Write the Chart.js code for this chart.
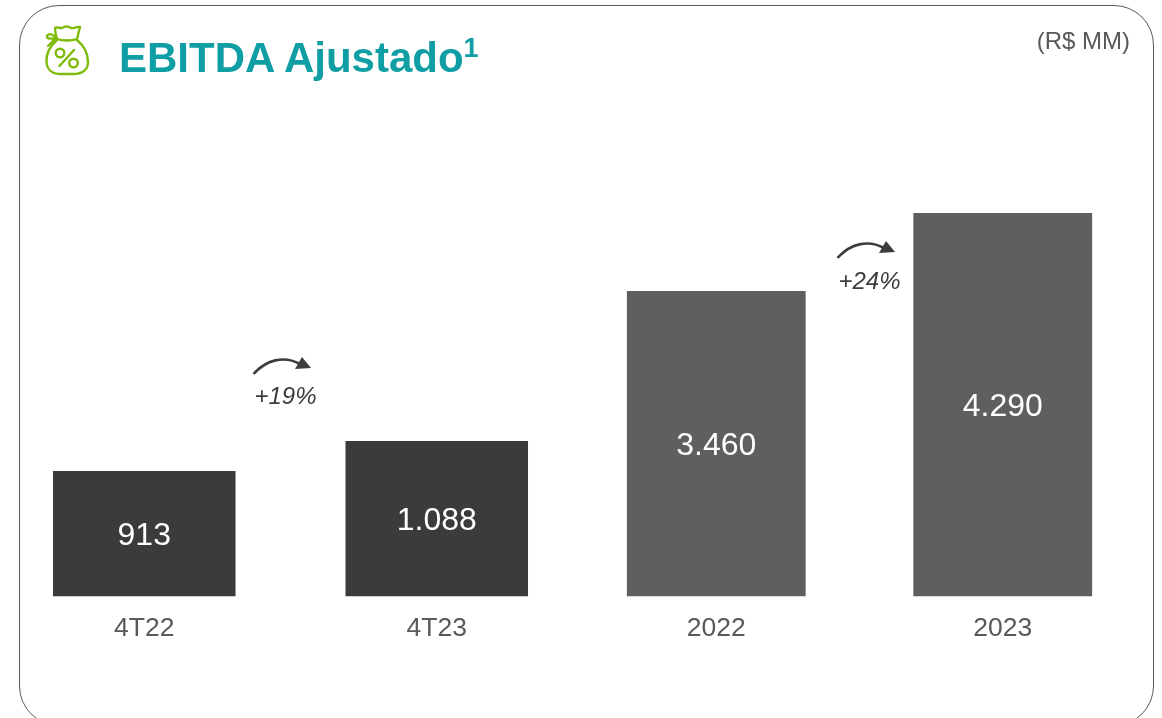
<!DOCTYPE html>
<html><head><meta charset="utf-8">
<style>html,body{margin:0;padding:0;background:#fff}#w{position:relative;width:1162px;height:718px;overflow:hidden}canvas{position:absolute;top:0}
.card{position:absolute;left:19px;top:4.500px;width:1135px;height:721px;border:1.6px solid #5a5a5a;border-radius:40px;box-sizing:border-box}
.t{position:absolute;left:119px;top:34px;font:bold 42px "Liberation Sans";color:#0f9ea4;white-space:nowrap}.t sup{font-size:27px;line-height:0;vertical-align:baseline;position:relative;top:-15px}
.u{position:absolute;right:32px;top:27px;font:24px "Liberation Sans";color:#595959}
.p{position:absolute;font:italic 24px "Liberation Sans";color:#3c3c3a}
svg{position:absolute;left:0;top:0}
</style></head><body><div id="w"><div class="card"></div>
<canvas id="q" width="585" height="718" style="left:-2px;width:585px;height:718px"></canvas>
<canvas id="a" width="573" height="718" style="left:573px;width:573px;height:718px"></canvas>
<div class="t">EBITDA Ajustado<sup>1</sup></div><div class="u">(R$ MM)</div>
<div class="p" style="left:254.500px;top:382px">+19%</div><div class="p" style="left:838.500px;top:267px">+24%</div>
<svg width="1162" height="718" fill="none">
<path d="M253.500 374C266 360 284 355 300 364" stroke="#3c3c3a" stroke-width="2.600"/><path d="M311 368L295 369L302 357Z" fill="#3c3c3a"/>
<path d="M837.500 258C850 244 868 239 884 248" stroke="#3c3c3a" stroke-width="2.600"/><path d="M895 252L879 253L886 241Z" fill="#3c3c3a"/>
<g stroke="#7fbb0a" stroke-width="2.400" stroke-linejoin="round" stroke-linecap="round">
<path d="M57 40C50 46 46 54 46.500 62C47 70 53 74 61 74H73C82 74 88 70 88 62C88 53 83 45 77 40"/>
<path d="M57 39C62 41 72 41 77 39C78 35 79 31 80 27C76 26 74 29 71 28C68 26 65 26 62 28C60 29 57 26 55 28C55 32 56 36 57 39Z"/>
<path d="M56 38C53 34 49 33 47 36C46 39 51 39 56 38L48 46"/>
<path d="M59.500 66L74 50"/><circle cx="60" cy="53" r="4.300"/><circle cx="73.500" cy="63" r="4.300"/></g></svg>
</div>
<script src="https://cdn.jsdelivr.net/npm/chart.js@4"></script>
<script>
const quarterCategories=["4T22","4T23"];
const quarterValues=[913,1088];
const quarterLabels=["913","1.088"];
const annualCategories=["2022","2023"];
const annualValues=[3460,4290];
const annualLabels=["3.460","4.290"];
const quarterColor="#3c3b39";
const annualColor="#605f5d";
function barChart(id,cats,vals,labs,color,yMin,yMax,topPad){
  const labelPlugin={id:"vl",afterDatasetsDraw(ch){const c=ch.ctx;c.save();c.font='32px "Liberation Sans"';c.fillStyle="#fff";c.textAlign="center";c.textBaseline="middle";ch.getDatasetMeta(0).data.forEach((b,i)=>{c.fillText(labs[i],b.x,(b.y+ch.chartArea.bottom)/2+2.5)});c.restore()}};
  new Chart(document.getElementById(id),{type:"bar",data:{labels:cats,datasets:[{data:vals,backgroundColor:color,barPercentage:.624,categoryPercentage:1}]},
  options:{responsive:false,animation:false,layout:{padding:{left:0,right:0,top:topPad,bottom:64}},plugins:{legend:{display:false},tooltip:{enabled:false}},
  scales:{y:{display:false,min:yMin,max:yMax},x:{grid:{display:false},border:{display:false},ticks:{color:"#595959",font:{family:"Liberation Sans",size:26.5},padding:9,maxRotation:0}}}},plugins:[labelPlugin]});
}
barChart("q",quarterCategories,quarterValues,quarterLabels,quarterColor,184,1088,441);
barChart("a",annualCategories,annualValues,annualLabels,annualColor,215,4290,213);
</script></body></html>
